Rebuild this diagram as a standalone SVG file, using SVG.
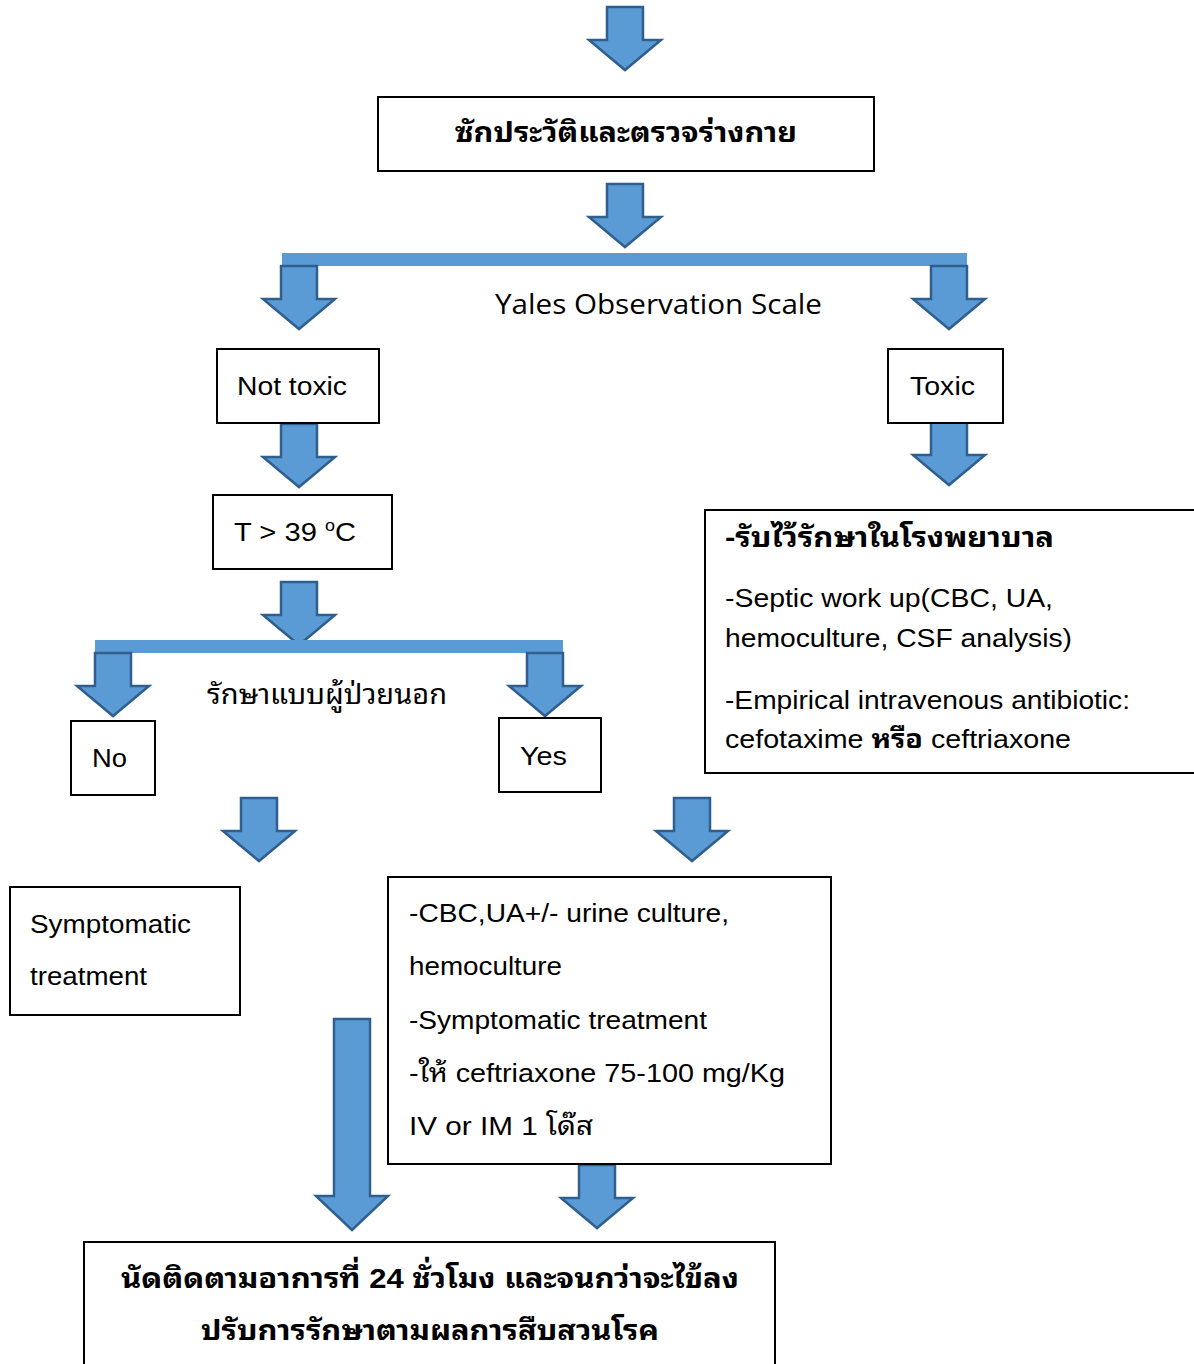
<svg xmlns="http://www.w3.org/2000/svg" xmlns:xlink="http://www.w3.org/1999/xlink" width="1194" height="1364" viewBox="0 0 1194 1364">
<style>
.arrow{fill:#5B9BD5;stroke:#2F5F8F;stroke-width:2.5;stroke-linejoin:miter}
.bar{fill:#5B9BD5}
.box{fill:#fff;stroke:#000;stroke-width:2}
.t{font-family:"Liberation Sans","Noto Sans Thai Looped","Loma","Garuda","Noto Sans Thai","Noto Sans",sans-serif;font-size:26px;fill:#000}
.th{font-family:"Liberation Sans","Noto Sans Thai Looped","Loma","Garuda","Noto Sans Thai","Noto Sans",sans-serif;font-size:28px;fill:#000}
.b{font-weight:bold}
.y{font-family:"Open Sans","DejaVu Sans",sans-serif;font-size:27px;fill:#000}
</style>
<defs>
<path id="arr" d="M-18,0 H18 V33 H36 L0,63 L-36,33 H-18 Z"/>
</defs>
<rect width="1194" height="1364" fill="#fff"/>
<g id="connectors">
<use xlink:href="#arr" href="#arr" class="arrow" x="625" y="7"/>
<use xlink:href="#arr" href="#arr" class="arrow" x="625" y="184"/>
<rect class="bar" x="282" y="253" width="685" height="13"/>
<use xlink:href="#arr" href="#arr" class="arrow" x="299" y="266"/>
<use xlink:href="#arr" href="#arr" class="arrow" x="949" y="266"/>
<use xlink:href="#arr" href="#arr" class="arrow" x="299" y="424"/>
<use xlink:href="#arr" href="#arr" class="arrow" x="949" y="422"/>
<use xlink:href="#arr" href="#arr" class="arrow" x="299" y="582"/>
<rect class="bar" x="95" y="640" width="468" height="13"/>
<use xlink:href="#arr" href="#arr" class="arrow" x="113" y="653"/>
<use xlink:href="#arr" href="#arr" class="arrow" x="545" y="653"/>
<use xlink:href="#arr" href="#arr" class="arrow" x="259" y="798"/>
<use xlink:href="#arr" href="#arr" class="arrow" x="692" y="798"/>
<path class="arrow" d="M334,1019 H370 V1196 H388 L352,1230 L316,1196 H334 Z"/>
<use xlink:href="#arr" href="#arr" class="arrow" x="597" y="1165"/>
</g>
<g id="history">
<rect class="box" x="378" y="97" width="496" height="74"/>
<text class="th b" x="626" y="142" text-anchor="middle" textLength="342" lengthAdjust="spacingAndGlyphs">ซักประวัติและตรวจร่างกาย</text>
</g>
<g id="yales">
<text class="y" x="495" y="314" textLength="327" lengthAdjust="spacingAndGlyphs">Yales Observation Scale</text>
</g>
<g id="nottoxic">
<rect class="box" x="217" y="349" width="162" height="74"/>
<text class="t" x="237" y="395" textLength="110" lengthAdjust="spacingAndGlyphs">Not toxic</text>
</g>
<g id="toxic">
<rect class="box" x="888" y="349" width="115" height="74"/>
<text class="t" x="910" y="395" textLength="65" lengthAdjust="spacingAndGlyphs">Toxic</text>
</g>
<g id="temp">
<rect class="box" x="213" y="495" width="179" height="74"/>
<text class="t" x="234" y="541" textLength="122" lengthAdjust="spacingAndGlyphs">T &gt; 39 <tspan font-size="16" dy="-10">o</tspan><tspan dy="10">C</tspan></text>
</g>
<g id="opd">
<text class="th" x="207" y="704" textLength="240" lengthAdjust="spacingAndGlyphs">รักษาแบบผู้ป่วยนอก</text>
</g>
<g id="no">
<rect class="box" x="71" y="721" width="84" height="74"/>
<text class="t" x="92" y="767" textLength="35" lengthAdjust="spacingAndGlyphs">No</text>
</g>
<g id="yes">
<rect class="box" x="499" y="718" width="102" height="74"/>
<text class="t" x="520" y="765" textLength="47" lengthAdjust="spacingAndGlyphs">Yes</text>
</g>
<g id="admit">
<rect class="box" x="705" y="510" width="495" height="263"/>
<text class="th b" x="725" y="547" textLength="329" lengthAdjust="spacingAndGlyphs">-รับไว้รักษาในโรงพยาบาล</text>
<text class="t" x="725" y="607" textLength="328" lengthAdjust="spacingAndGlyphs">-Septic work up(CBC, UA,</text>
<text class="t" x="725" y="647" textLength="347" lengthAdjust="spacingAndGlyphs">hemoculture, CSF analysis)</text>
<text class="t" x="725" y="709" textLength="405" lengthAdjust="spacingAndGlyphs">-Empirical intravenous antibiotic:</text>
<text class="t" x="725" y="748" textLength="346" lengthAdjust="spacingAndGlyphs">cefotaxime <tspan class="b">หรือ</tspan> ceftriaxone</text>
</g>
<g id="symptomatic">
<rect class="box" x="10" y="887" width="230" height="128"/>
<text class="t" x="30" y="933" textLength="161" lengthAdjust="spacingAndGlyphs">Symptomatic</text>
<text class="t" x="30" y="985" textLength="117" lengthAdjust="spacingAndGlyphs">treatment</text>
</g>
<g id="workup">
<rect class="box" x="388" y="877" width="443" height="287"/>
<text class="t" x="409" y="922" textLength="320" lengthAdjust="spacingAndGlyphs">-CBC,UA+/- urine culture,</text>
<text class="t" x="409" y="975" textLength="153" lengthAdjust="spacingAndGlyphs">hemoculture</text>
<text class="t" x="409" y="1029" textLength="298" lengthAdjust="spacingAndGlyphs">-Symptomatic treatment</text>
<text class="t" x="409" y="1082" textLength="376" lengthAdjust="spacingAndGlyphs">-ให้ ceftriaxone 75-100 mg/Kg</text>
<text class="t" x="409" y="1135" textLength="184" lengthAdjust="spacingAndGlyphs">IV or IM 1 โด๊ส</text>
</g>
<g id="followup">
<rect class="box" x="84" y="1242" width="691" height="130"/>
<text class="th b" x="430" y="1288" text-anchor="middle" textLength="618" lengthAdjust="spacingAndGlyphs">นัดติดตามอาการที่ 24 ชั่วโมง และจนกว่าจะไข้ลง</text>
<text class="th b" x="430" y="1340" text-anchor="middle" textLength="458" lengthAdjust="spacingAndGlyphs">ปรับการรักษาตามผลการสืบสวนโรค</text>
</g>
</svg>
